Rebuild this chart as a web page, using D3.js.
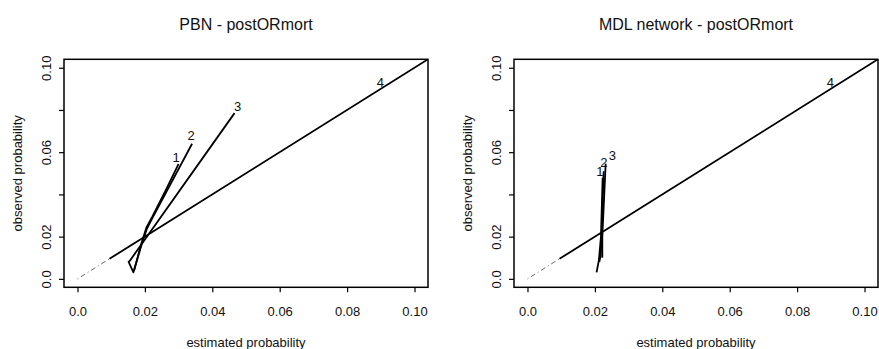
<!DOCTYPE html>
<html>
<head>
<meta charset="utf-8">
<script src="https://cdn.jsdelivr.net/npm/d3@7"></script>
<style>
    body { margin: 0; background: #fff; }
    svg text { font-family: "Liberation Sans", Arial, Helvetica, sans-serif; fill: #111; }
</style>
</head>
<body>
<div id="chart"></div>
<script>
// tick values for both axes
var tickValues = [0, 0.02, 0.04, 0.06, 0.08, 0.10];
var xTickLabels = ["0.0", "0.02", "0.04", "0.06", "0.08", "0.10"];
var yTickLabels = ["0.0", "0.02", "", "0.06", "", "0.10"];

// PBN curves (estimated, observed)
var pbn1X = [0.0168, 0.0190, 0.0205, 0.0222, 0.0262, 0.0300];
var pbn1Y = [0.0040, 0.0170, 0.0245, 0.0295, 0.0420, 0.0545];
var pbn2X = [0.0152, 0.0166, 0.0191, 0.0206, 0.0221, 0.0340];
var pbn2Y = [0.0079, 0.0031, 0.0166, 0.0237, 0.0284, 0.0640];
var pbn3X = [0.0150, 0.0155, 0.0466];
var pbn3Y = [0.0078, 0.0085, 0.0785];
var pbnLabelX = [0.0293, 0.0337, 0.0475, 0.0899];
var pbnLabelY = [0.0574, 0.0679, 0.0818, 0.0930];

// MDL network curves
var mdl1X = [0.0205, 0.0212, 0.0218, 0.0223];
var mdl1Y = [0.0031, 0.0090, 0.0200, 0.0479];
var mdl2X = [0.0213, 0.0217, 0.0220, 0.0226];
var mdl2Y = [0.0080, 0.0110, 0.0200, 0.0510];
var mdl3X = [0.0222, 0.0222, 0.0232];
var mdl3Y = [0.0100, 0.0200, 0.0545];
var mdlLabelX = [0.0215, 0.0227, 0.0252, 0.0899];
var mdlLabelY = [0.0510, 0.0553, 0.0585, 0.0930];

// group 4 lies on the diagonal in both panels
var line4X = [0.0095, 0.12];
var line4Y = [0.0095, 0.12];
var refX = [0, 0.12];
var refY = [0, 0.12];

var labels = ["1", "2", "3", "4"];

function zip(xs, ys) {
    return xs.map(function (d, i) { return {x: d, y: ys[i]}; });
}

var svg = d3.select("#chart")
    .append("svg")
    .attr("width", 879)
    .attr("height", 349);

function drawPanel(id, left, title, curves, labelX, labelY) {
    var top = 59.3, bottom = 287.3, right = left + 364;

    var x = d3.scaleLinear().domain([-0.004, 0.104]).range([left, right]);
    var y = d3.scaleLinear().domain([-0.004, 0.104]).range([bottom, top]);

    var g = svg.append("g");

    // clip region = plot box
    svg.append("clipPath").attr("id", "clip" + id)
        .append("rect")
        .attr("x", left).attr("y", top)
        .attr("width", right - left).attr("height", bottom - top);

    // x axis
    var xAxis = g.append("g")
        .attr("transform", "translate(0," + bottom + ")")
        .call(d3.axisBottom(x)
            .tickValues(tickValues)
            .tickSize(5)
            .tickFormat(function (d, i) { return xTickLabels[i]; }));
    xAxis.select(".domain").remove();
    xAxis.selectAll("line").attr("stroke", "#000").attr("stroke-width", 1.2);
    xAxis.selectAll("text")
        .attr("dy", null).attr("y", 29)
        .style("font-size", "13px").attr("fill", "#111");

    // y axis, labels turned like R's las=0
    var yAxis = g.append("g")
        .attr("transform", "translate(" + left + ",0)")
        .call(d3.axisLeft(y)
            .tickValues(tickValues)
            .tickSize(5)
            .tickFormat(function (d, i) { return yTickLabels[i]; }));
    yAxis.select(".domain").remove();
    yAxis.selectAll("line").attr("stroke", "#000").attr("stroke-width", 1.2);
    yAxis.selectAll("text")
        .attr("x", null).attr("dy", null)
        .attr("text-anchor", "middle")
        .attr("transform", "translate(-17.5,0) rotate(-90)")
        .attr("y", 0)
        .attr("dominant-baseline", "central")
        .style("font-size", "13px").attr("fill", "#111");

    // axis titles and main title
    g.append("text")
        .attr("x", (left + right) / 2).attr("y", 347)
        .attr("text-anchor", "middle")
        .style("font-size", "13px")
        .text("estimated probability");

    g.append("text")
        .attr("transform", "translate(" + (left - 47) + "," + ((top + bottom) / 2) + ") rotate(-90)")
        .attr("text-anchor", "middle")
        .attr("dominant-baseline", "central")
        .style("font-size", "13px")
        .text("observed probability");

    g.append("text")
        .attr("x", (left + right) / 2).attr("y", 30)
        .attr("text-anchor", "middle")
        .style("font-size", "16px")
        .text(title);

    var line = d3.line()
        .x(function (d) { return x(d.x); })
        .y(function (d) { return y(d.y); });

    var plot = g.append("g").attr("clip-path", "url(#clip" + id + ")");

    // reference diagonal
    plot.append("path")
        .datum(zip(refX, refY))
        .attr("d", line)
        .attr("fill", "none")
        .attr("stroke", "#444")
        .attr("stroke-width", 0.8)
        .attr("stroke-dasharray", "1,3,5,3");

    curves.forEach(function (c) {
        plot.append("path")
            .datum(c)
            .attr("d", line)
            .attr("fill", "none")
            .attr("stroke", "#000")
            .attr("stroke-width", 1.8)
            .attr("stroke-linejoin", "round");
    });

    // curve numbers
    labels.forEach(function (t, i) {
        g.append("text")
            .attr("x", x(labelX[i])).attr("y", y(labelY[i]))
            .attr("text-anchor", "middle")
            .attr("dominant-baseline", "central")
            .style("font-size", "13px")
            .text(t);
    });

    // box
    g.append("rect")
        .attr("x", left).attr("y", top)
        .attr("width", right - left).attr("height", bottom - top)
        .attr("fill", "none")
        .attr("stroke", "#000")
        .attr("stroke-width", 1.5);
}

drawPanel("A", 64, "PBN - postORmort",
    [zip(pbn1X, pbn1Y), zip(pbn2X, pbn2Y), zip(pbn3X, pbn3Y), zip(line4X, line4Y)],
    pbnLabelX, pbnLabelY);

drawPanel("B", 514, "MDL network - postORmort",
    [zip(mdl1X, mdl1Y), zip(mdl2X, mdl2Y), zip(mdl3X, mdl3Y), zip(line4X, line4Y)],
    mdlLabelX, mdlLabelY);
</script>
</body>
</html>
